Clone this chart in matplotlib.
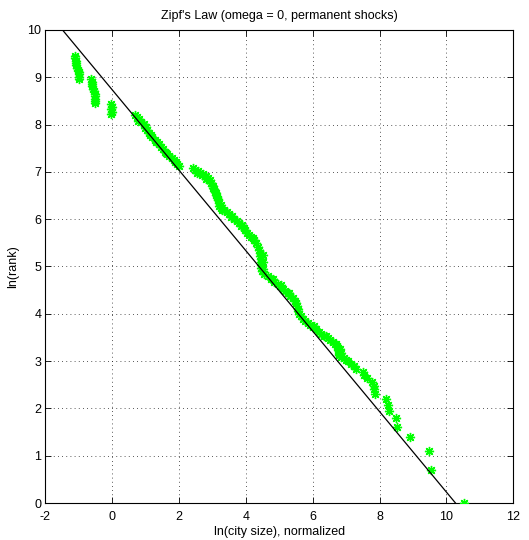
import matplotlib
matplotlib.use("Agg")
import matplotlib.pyplot as plt
import numpy as np

plt.rcParams["font.family"] = ["Liberation Sans", "DejaVu Sans"]
plt.rcParams["axes.unicode_minus"] = False

# ln(city size), normalized -- largest cities first
ln_size = [
    # largest cities, one marker each
    10.54, 9.53, 9.48, 8.90, 8.51, 8.48, 8.28, 8.24, 8.20, 7.86,
    7.84, 7.82, 7.78, 7.62, 7.55, 7.50, 7.30, 7.24, 7.15, 7.05,
    # upper tail band
    7.00, 6.93, 6.86, 6.80, 6.79, 6.78, 6.77, 6.76, 6.74, 6.68,
    6.60, 6.52, 6.45, 6.35, 6.25, 6.18, 6.10, 6.02, 5.93, 5.85,
    5.77, 5.70, 5.64, 5.60, 5.56,
    6.70, 6.82, 6.84, 6.40, 6.05,
    # middle band
    5.55, 5.52, 5.50, 5.46, 5.40, 5.33, 5.25, 5.18, 5.10, 5.02,
    4.95, 4.85, 4.75, 4.65, 4.55, 4.48, 4.46, 4.45, 4.45, 4.44,
    4.43, 4.42, 4.40,
    5.30, 5.05, 4.80, 4.52, 4.52, 4.50,
    4.35, 4.30, 4.25, 4.16, 4.08, 4.02, 3.98, 3.93, 3.87, 3.80,
    3.72, 3.65, 3.57, 3.50, 3.42, 3.34, 3.26, 3.20, 3.18, 3.15,
    3.12, 3.09, 3.06, 3.03, 3.00, 2.96, 2.92, 2.87, 2.80, 2.72,
    2.64, 2.56, 2.48, 2.42,
    4.20, 3.85, 3.55, 3.28, 3.24, 3.16, 3.10, 3.02, 2.95, 2.82,
    2.68, 2.55,
    # lower band
    2.00, 1.95, 1.90, 1.84, 1.78, 1.71, 1.65, 1.58, 1.52, 1.46,
    1.40, 1.34, 1.27, 1.20, 1.14, 1.09, 1.05, 1.00, 0.94, 0.87,
    0.80, 0.73, 0.68,
    1.88, 1.60, 1.32, 1.16, 0.98, 0.78,
    # small-city clusters
    -0.03, -0.02, -0.03, -0.02, -0.03,
    -0.51, -0.51, -0.52, -0.52, -0.53, -0.54, -0.58, -0.60, -0.61, -0.62,
    -0.63,
    -0.99, -0.99, -1.00, -1.00, -1.02, -1.06, -1.09, -1.10, -1.10, -1.11,
    -1.11,
]

# ln(rank) for the same cities
ln_rank = [
    0.00, 0.69, 1.10, 1.39, 1.61, 1.79, 1.95, 2.08, 2.20, 2.30,
    2.40, 2.48, 2.56, 2.64, 2.71, 2.77, 2.83, 2.89, 2.94, 3.00,
    3.03, 3.06, 3.09, 3.12, 3.16, 3.20, 3.24, 3.28, 3.32, 3.36,
    3.40, 3.44, 3.48, 3.53, 3.58, 3.62, 3.67, 3.72, 3.77, 3.81,
    3.85, 3.89, 3.95, 4.00, 4.06,
    3.36, 3.26, 3.18, 3.52, 3.74,
    4.10, 4.16, 4.22, 4.28, 4.33, 4.38, 4.43, 4.48, 4.53, 4.58,
    4.63, 4.68, 4.74, 4.79, 4.85, 4.91, 4.97, 5.03, 5.09, 5.15,
    5.22, 5.29, 5.35,
    4.45, 4.60, 4.73, 4.95, 5.10, 5.25,
    5.42, 5.50, 5.57, 5.62, 5.66, 5.71, 5.77, 5.82, 5.87, 5.92,
    5.97, 6.01, 6.06, 6.10, 6.15, 6.19, 6.23, 6.28, 6.34, 6.40,
    6.46, 6.52, 6.58, 6.64, 6.70, 6.76, 6.82, 6.87, 6.91, 6.95,
    6.98, 7.02, 7.05, 7.08,
    5.60, 5.86, 6.05, 6.20, 6.30, 6.42, 6.55, 6.66, 6.76, 6.86,
    6.93, 6.98,
    7.12, 7.16, 7.20, 7.25, 7.29, 7.34, 7.38, 7.43, 7.48, 7.53,
    7.58, 7.63, 7.68, 7.73, 7.78, 7.83, 7.89, 7.95, 8.01, 8.06,
    8.11, 8.16, 8.21,
    7.20, 7.40, 7.64, 7.78, 7.92, 8.08,
    8.22, 8.27, 8.32, 8.38, 8.43,
    8.45, 8.50, 8.55, 8.60, 8.65, 8.70, 8.76, 8.81, 8.86, 8.91,
    8.96,
    8.96, 9.01, 9.06, 9.11, 9.16, 9.20, 9.25, 9.30, 9.35, 9.40,
    9.46,
]

# fitted power law: ln(rank) = intercept + slope * ln(size)
fit_intercept = 8.733
fit_slope = -0.850

x_ticks = [-2, 0, 2, 4, 6, 8, 10, 12]
y_ticks = [0, 1, 2, 3, 4, 5, 6, 7, 8, 9, 10]

fig = plt.figure(figsize=(5.29, 5.40), dpi=100)
ax = fig.add_axes([0.086, 0.0685, 0.884, 0.876])

ax.plot(ln_size, ln_rank, linestyle="none", marker=(8, 2, 0),
        markersize=6.6, markeredgewidth=1.0, color=(0, 1, 0),
        markeredgecolor=(0, 1, 0), zorder=3)

fit_x = np.array([x_ticks[0], x_ticks[-1]], dtype=float)
ax.plot(fit_x, fit_intercept + fit_slope * fit_x, color="black",
        linewidth=0.9, zorder=4)

ax.set_xlim(x_ticks[0], x_ticks[-1])
ax.set_ylim(y_ticks[0], y_ticks[-1])
ax.set_xticks(x_ticks)
ax.set_yticks(y_ticks)
ax.tick_params(direction="in", length=4, width=0.6, top=True, right=True,
               labelsize=9)
ax.tick_params(axis="x", pad=6)
ax.tick_params(axis="y", pad=3)
ax.grid(True, color="#222222", linestyle=(0, (1, 4)), linewidth=0.6)
for s in ax.spines.values():
    s.set_linewidth(0.8)

ax.set_title("Zipf's Law (omega = 0, permanent shocks)", fontsize=9, pad=8)
ax.set_xlabel("ln(city size), normalized", fontsize=9, labelpad=2)
ax.set_ylabel("ln(rank)", fontsize=9, labelpad=6)

fig.savefig("out.png", dpi=100)
